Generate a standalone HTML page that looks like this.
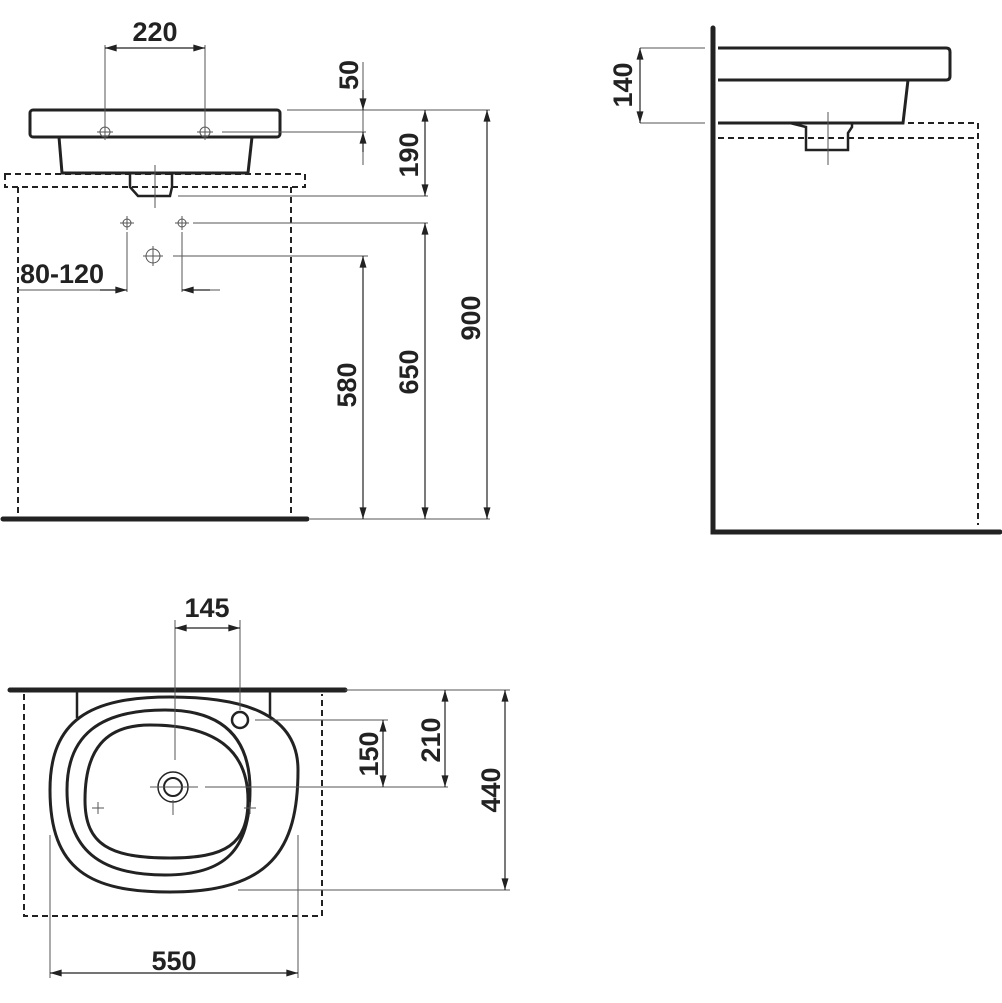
<!DOCTYPE html><html><head><style>body{margin:0;background:#fff}svg{display:block}text{font-family:"Liberation Sans Narrow","Liberation Sans",sans-serif;font-weight:bold;font-size:27px;fill:#222}</style></head><body>
<svg width="1002" height="1003" viewBox="0 0 1002 1003" xmlns="http://www.w3.org/2000/svg">
<defs><marker id="a" viewBox="0 0 10 6" refX="10" refY="3" markerWidth="14" markerHeight="7" markerUnits="userSpaceOnUse" orient="auto-start-reverse"><path d="M0,0L10,3L0,6z" fill="#222"/></marker></defs>
<g fill="none" stroke="#222">
<!-- top-left view -->
<rect x="30" y="110" width="250" height="27" rx="3" stroke-width="3"/>
<path d="M59,137L62,173H248L252,137" stroke-width="3"/>
<path d="M130,173V187L138,196H170L172,187V173" stroke-width="2.5"/>
<path d="M5,174H305V187H5z" stroke-dasharray="6,4" stroke-width="2"/>
<path d="M18,187V515M291,187V515" stroke-dasharray="6,4" stroke-width="2"/>
<path d="M3,519H307" stroke-width="5" stroke-linecap="round"/>
<g stroke-width="1" stroke="#555">
<path d="M105,45V140M205,45V140M155,165V208"/>
<path d="M287,110H490M222,132H366M178,196H428M193,223H428M173,256H368M310,519H490"/>
<path d="M127,232V292M182,232V292M18,290H127M182,290H220"/>
<path d="M363,62V165"/>
<circle cx="105" cy="132" r="5"/><circle cx="205" cy="132" r="5"/>
<circle cx="127" cy="223" r="4"/><circle cx="182" cy="223" r="4"/><circle cx="153" cy="256" r="7"/>
<path d="M97,132H113M105,124V140M197,132H213M205,124V140M120,223H134M127,216V230M175,223H189M182,216V230M143,256H163M153,246V266"/>
</g>
<g stroke-width="1.2">
<path d="M105,48H205" marker-start="url(#a)" marker-end="url(#a)"/>
<path d="M363,90V110" marker-end="url(#a)"/><path d="M363,152V132" marker-end="url(#a)"/>
<path d="M425,110V196" marker-start="url(#a)" marker-end="url(#a)"/>
<path d="M487,110V519" marker-start="url(#a)" marker-end="url(#a)"/>
<path d="M425,223V519" marker-start="url(#a)" marker-end="url(#a)"/>
<path d="M363,256V519" marker-start="url(#a)" marker-end="url(#a)"/>
<path d="M100,290H127" marker-end="url(#a)"/><path d="M210,290H182" marker-end="url(#a)"/>
</g>
<!-- side view -->
<path d="M713,28V532H1000" stroke-width="5" stroke-linecap="round"/>
<path d="M718,48H946Q950,48 950,52V76Q950,80 946,80H718" stroke-width="3"/>
<path d="M718,123H903L908,80" stroke-width="3"/>
<path d="M790,123L806,127V150H848V133L852,127V123" stroke-width="2.5"/>
<path d="M908,123H978V525M718,138H978" stroke-dasharray="6,4" stroke-width="2"/>
<g stroke-width="1" stroke="#555"><path d="M640,48H705M640,123H705M828,112V165"/></g>
<path d="M640,48V123" stroke-width="1.2" marker-start="url(#a)" marker-end="url(#a)"/>
<!-- bottom view -->
<path d="M10,690H345" stroke-width="5" stroke-linecap="round"/>
<path d="M24,694V916H322V694" stroke-dasharray="6,4" stroke-width="2"/>
<path d="M77,692V718M270,692V718" stroke-width="2.5"/>
<path d="M170,697C240,697 298,712 298,770C298,850 270,892 170,892C90,892 50,870 50,790C50,720 90,697 170,697Z" stroke-width="3"/>
<path d="M165,710C225,710 250,740 250,790C250,850 225,875 165,875C100,875 67,850 67,790C67,735 100,710 165,710Z" stroke-width="3"/>
<path d="M150,725C215,725 248,750 248,800C248,845 225,858 170,858C110,858 85,845 85,800C85,750 105,725 150,725Z" stroke-width="3"/>
<circle cx="173" cy="787" r="15" stroke-width="1.5"/><circle cx="173" cy="787" r="9" stroke-width="2"/>
<circle cx="240" cy="720" r="8" stroke-width="2.5"/>
<g stroke-width="1" stroke="#555">
<path d="M175,620V760M240,620V710M150,787H198M173,800V815M205,787H448"/>
<path d="M345,690H510M255,720H388M238,890H510M50,835V978M298,835V978"/>
<path d="M92,808H104M98,802V814M244,808H256M250,802V814"/>
</g>
<g stroke-width="1.2">
<path d="M175,628H240" marker-start="url(#a)" marker-end="url(#a)"/>
<path d="M383,720V787" marker-start="url(#a)" marker-end="url(#a)"/>
<path d="M445,690V787" marker-start="url(#a)" marker-end="url(#a)"/>
<path d="M505,690V890" marker-start="url(#a)" marker-end="url(#a)"/>
<path d="M50,973H298" marker-start="url(#a)" marker-end="url(#a)"/>
</g>
</g>
<text x="155" y="41" text-anchor="middle">220</text>
<text x="62" y="283" text-anchor="middle">80-120</text>
<text transform="translate(358,75) rotate(-90)" text-anchor="middle">50</text>
<text transform="translate(418,155) rotate(-90)" text-anchor="middle">190</text>
<text transform="translate(480,318) rotate(-90)" text-anchor="middle">900</text>
<text transform="translate(418,372) rotate(-90)" text-anchor="middle">650</text>
<text transform="translate(356,385) rotate(-90)" text-anchor="middle">580</text>
<text transform="translate(632,85) rotate(-90)" text-anchor="middle">140</text>
<text x="207" y="617" text-anchor="middle">145</text>
<text transform="translate(378,754) rotate(-90)" text-anchor="middle">150</text>
<text transform="translate(440,740) rotate(-90)" text-anchor="middle">210</text>
<text transform="translate(500,790) rotate(-90)" text-anchor="middle">440</text>
<text x="174" y="970" text-anchor="middle">550</text>
</svg></body></html>
